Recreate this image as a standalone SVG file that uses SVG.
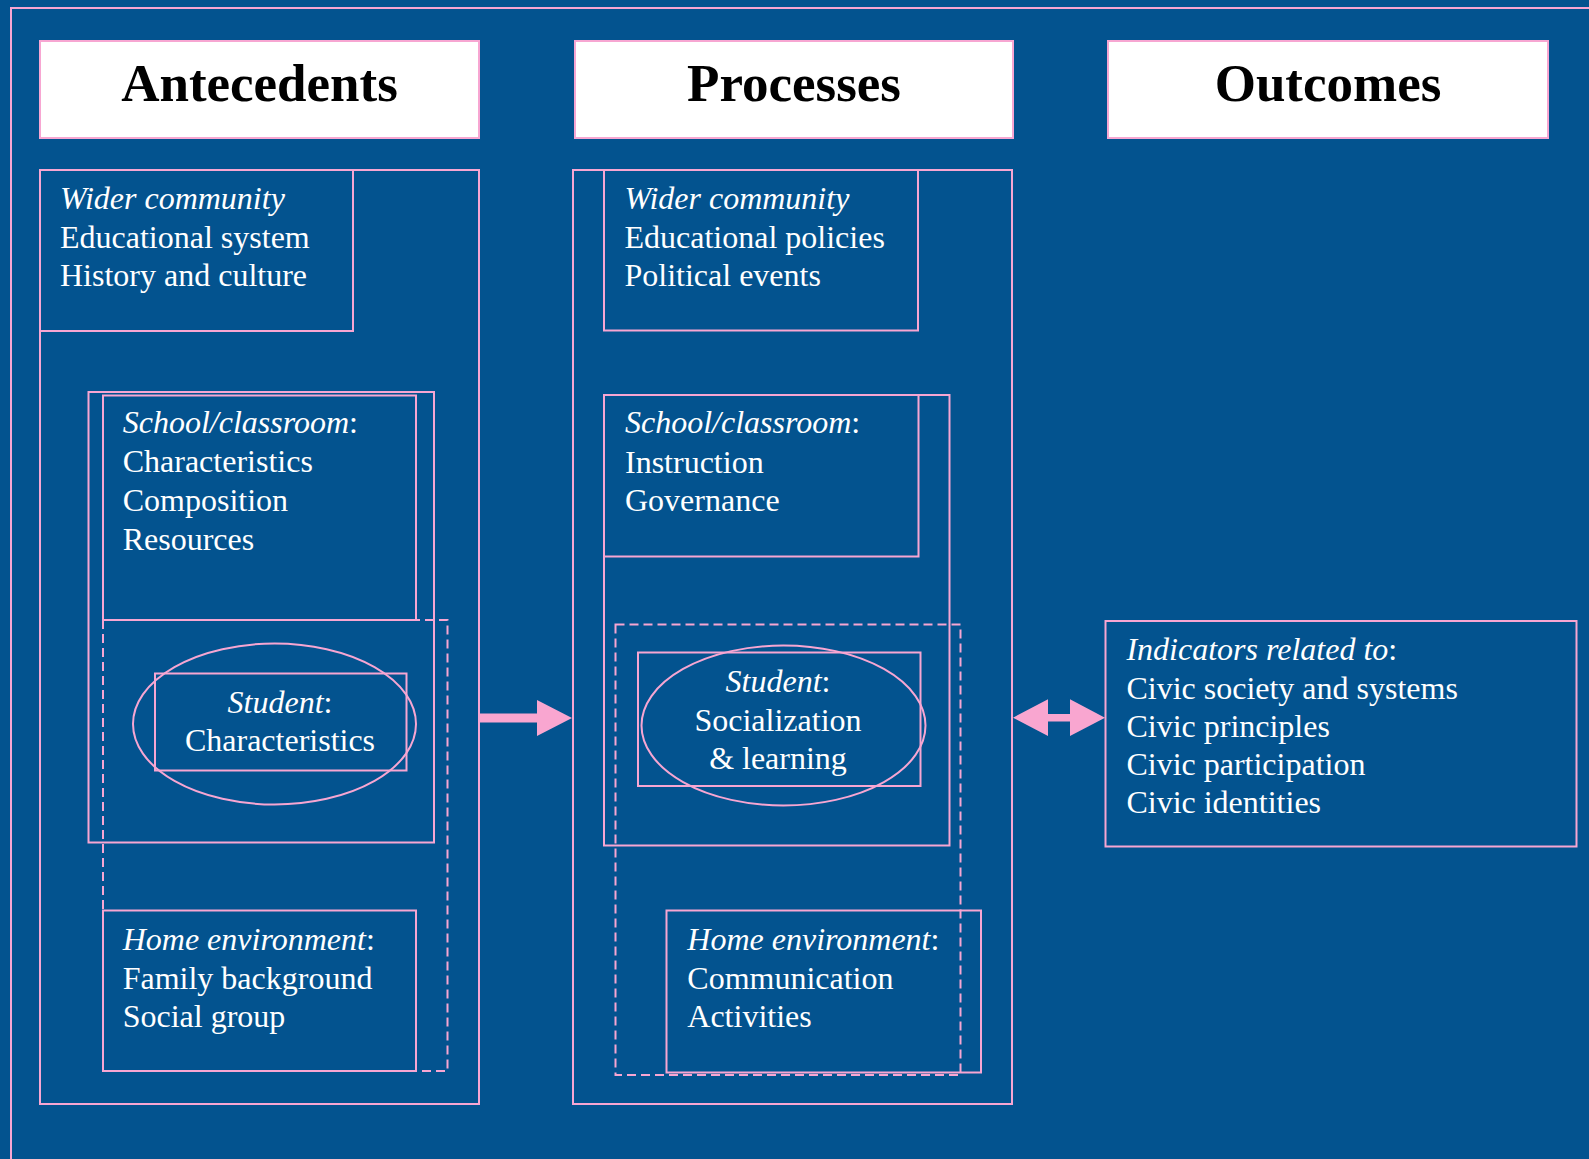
<svg xmlns="http://www.w3.org/2000/svg" width="1589" height="1159" viewBox="0 0 1589 1159">
<style>
.box{fill:none;stroke:#f7a6d2;stroke-width:2}
.dash{fill:none;stroke:#f7a6d2;stroke-width:2;stroke-dasharray:9 5}
.hdr{fill:#ffffff;stroke:#f7a6d2;stroke-width:2}
.ht{font-family:"Liberation Serif","Times New Roman",serif;font-weight:bold;font-size:53px;fill:#000;text-anchor:middle}
.t{font-family:"Liberation Serif","Times New Roman",serif;font-size:32px;fill:#ffffff}
.c{text-anchor:middle}
.i{font-style:italic}
.arr{fill:#f9a6d0}
</style>
<rect width="1589" height="1159" fill="#03538f"/>
<rect class="box" x="11" y="8" width="1600" height="1200"/>

<g id="hdr-antecedents"><rect class="hdr" x="40" y="41" width="439" height="97"/><text class="ht" x="259.5" y="101">Antecedents</text></g>
<g id="hdr-processes"><rect class="hdr" x="575" y="41" width="438" height="97"/><text class="ht" x="794" y="101">Processes</text></g>
<g id="hdr-outcomes"><rect class="hdr" x="1108" y="41" width="440" height="97"/><text class="ht" x="1328" y="101">Outcomes</text></g>

<g id="antecedents">
<rect class="box" x="40" y="170" width="439" height="934"/>
<g id="a-wider"><rect class="box" x="40" y="170" width="313" height="161"/>
<text class="t" x="60" y="209"><tspan class="i">Wider community</tspan></text>
<text class="t" x="60" y="248">Educational system</text>
<text class="t" x="60" y="286">History and culture</text></g>
<g id="a-school"><rect class="box" x="88.5" y="392" width="345.5" height="450.5"/>
<rect class="box" x="103" y="395.5" width="313" height="224.5"/>
<text class="t" x="122.7" y="433"><tspan class="i">School/classroom</tspan>:</text>
<text class="t" x="122.7" y="472">Characteristics</text>
<text class="t" x="122.7" y="511">Composition</text>
<text class="t" x="122.7" y="550">Resources</text></g>
<rect id="a-dashed" class="dash" x="103" y="620" width="344.5" height="451"/>
<g id="a-student"><ellipse class="box" cx="274.5" cy="724" rx="141.5" ry="80.5"/>
<rect class="box" x="155" y="673.5" width="251.5" height="97"/>
<text class="t c" x="280" y="712.5"><tspan class="i">Student</tspan>:</text>
<text class="t c" x="280" y="750.5">Characteristics</text></g>
<g id="a-home"><rect class="box" x="103" y="910.5" width="313" height="160.5"/>
<text class="t" x="122.7" y="950"><tspan class="i">Home environment</tspan>:</text>
<text class="t" x="122.7" y="988.5">Family background</text>
<text class="t" x="122.7" y="1027">Social group</text></g>
</g>

<g id="processes">
<rect class="box" x="573" y="170" width="439" height="934"/>
<g id="p-wider"><rect class="box" x="604" y="170" width="314" height="160.5"/>
<text class="t" x="624.5" y="209"><tspan class="i">Wider community</tspan></text>
<text class="t" x="624.5" y="248">Educational policies</text>
<text class="t" x="624.5" y="286">Political events</text></g>
<g id="p-school"><rect class="box" x="604" y="395" width="345.5" height="450.5"/>
<rect class="box" x="604" y="395" width="314.5" height="161.5"/>
<text class="t" x="625" y="433"><tspan class="i">School/classroom</tspan>:</text>
<text class="t" x="625" y="472.5">Instruction</text>
<text class="t" x="625" y="511">Governance</text></g>
<rect id="p-dashed" class="dash" x="615.5" y="624.5" width="345" height="450.5"/>
<g id="p-student"><rect class="box" x="638" y="652.5" width="282.5" height="133.5"/>
<ellipse class="box" cx="783.5" cy="725.5" rx="142" ry="80"/>
<text class="t c" x="778" y="691.5"><tspan class="i">Student</tspan>:</text>
<text class="t c" x="778" y="730.5">Socialization</text>
<text class="t c" x="778" y="768.5">&amp; learning</text></g>
<g id="p-home"><rect class="box" x="666.5" y="910.5" width="314.5" height="162"/>
<text class="t" x="687.3" y="950"><tspan class="i">Home environment</tspan>:</text>
<text class="t" x="687.3" y="988.5">Communication</text>
<text class="t" x="687.3" y="1027">Activities</text></g>
</g>

<g id="outcomes">
<rect class="box" x="1105.5" y="621" width="471" height="225.5"/>
<text class="t" x="1126.4" y="660"><tspan class="i">Indicators related to</tspan>:</text>
<text class="t" x="1126.4" y="698.5">Civic society and systems</text>
<text class="t" x="1126.4" y="736.5">Civic principles</text>
<text class="t" x="1126.4" y="775">Civic participation</text>
<text class="t" x="1126.4" y="812.5">Civic identities</text>
</g>

<g id="connectors">
<polygon class="arr" points="479,713.5 537,713.5 537,700 572,718 537,736 537,722.5 479,722.5"/>
<polygon class="arr" points="1013,717.7 1048,699.3 1048,714 1070,714 1070,699.3 1105,717.7 1070,736 1070,721.5 1048,721.5 1048,736"/>
</g>
</svg>
